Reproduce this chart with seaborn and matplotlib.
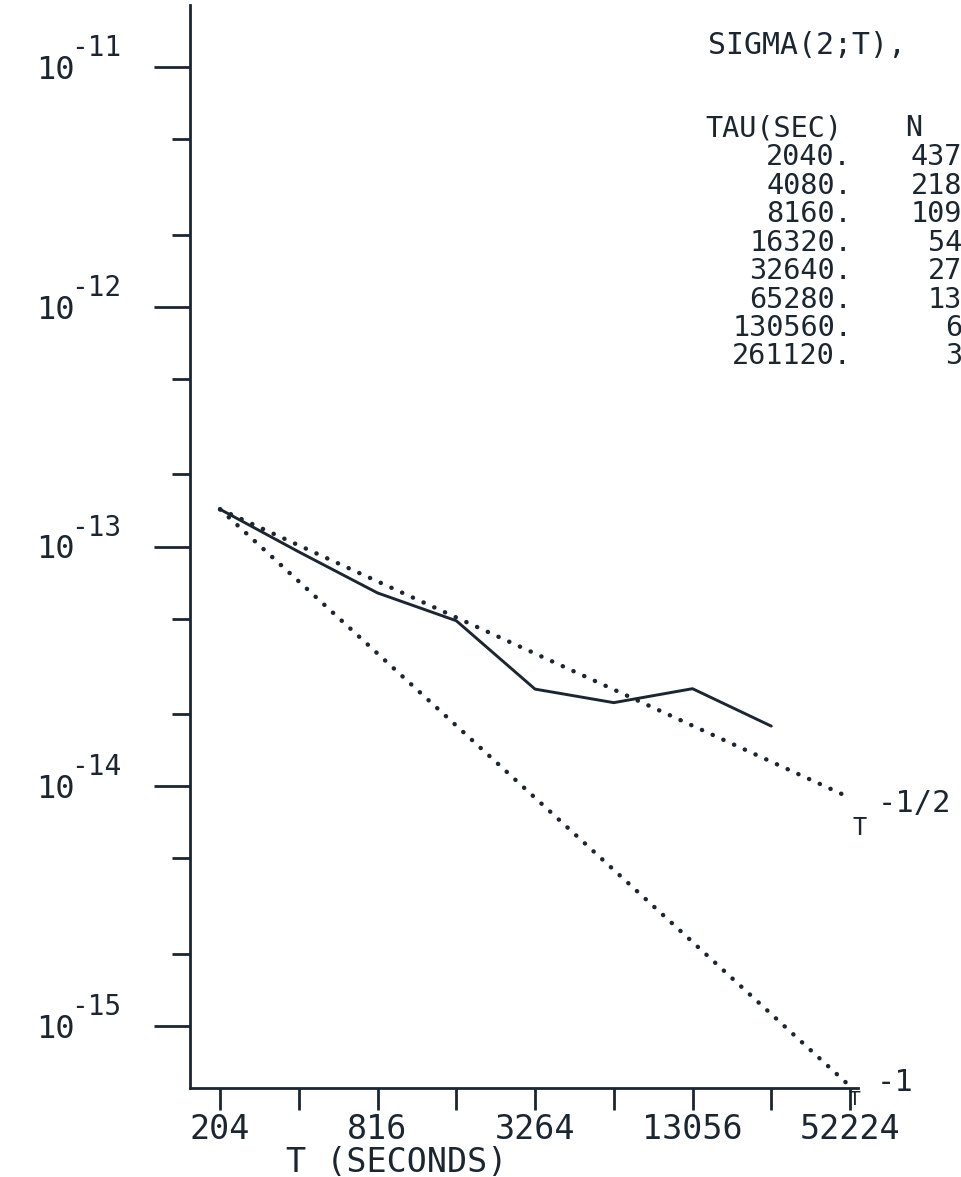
import matplotlib
matplotlib.use("Agg")
import matplotlib.pyplot as plt
import matplotlib.transforms as mtransforms
import seaborn as sns
import pandas as pd
from matplotlib.ticker import FixedLocator, FixedFormatter, NullFormatter

# Measured stability sigma(2;T) against averaging time T
tau = [204, 408, 816, 1632, 3264, 6528, 13056, 26112]
sigma = [1.43e-13, 0.95e-13, 0.64e-13, 0.49e-13, 0.254e-13, 0.223e-13, 0.255e-13, 0.178e-13]

# Guide lines T^-1/2 and T^-1 (end points)
guide_tau = [204, 52224]
guide_half = [1.43e-13, 8.94e-15]
guide_one = [1.43e-13, 5.59e-16]

# Axis ticks
x_major = [204, 816, 3264, 13056, 52224]
x_minor = [408, 1632, 6528, 26112]
y_major = [1e-15, 1e-14, 1e-13, 1e-12, 1e-11]
y_exponents = ["-15", "-14", "-13", "-12", "-11"]
y_minor = [2e-15, 5e-15, 2e-14, 5e-14, 2e-13, 5e-13, 2e-12, 5e-12]

# Side table
table_title = "SIGMA(2;T),"
table_head_tau = "TAU(SEC)"
table_head_n = "N"
table_tau = ["2040.", "4080.", "8160.", "16320.", "32640.", "65280.", "130560.", "261120."]
table_n = ["4370", "2185", "1092", "546", "273", "136", "68", "34"]

INK = "#1b2631"
MONO = "DejaVu Sans Mono"

sns.set_style("ticks")
plt.rcParams["font.family"] = [MONO, "DejaVu Sans"]

W, H = 961, 1177
fig = plt.figure(figsize=(W / 100, H / 100), dpi=100)
fig.patch.set_facecolor("white")

left_px, right_px, bottom_px, top_px = 190, 858, 1088, 5
ax = fig.add_axes([left_px / W, (H - bottom_px) / H,
                   (right_px - left_px) / W, (bottom_px - top_px) / H])
ax.set_facecolor("white")

measured = pd.DataFrame({"tau": tau, "sigma": sigma})
sns.lineplot(data=measured, x="tau", y="sigma", ax=ax, color=INK,
             linewidth=2.1, estimator=None, sort=False)

dot_style = dict(color=INK, linewidth=3.2, linestyle=(0, (0.05, 2.6)),
                 dash_capstyle="round", estimator=None, clip_on=False)
sns.lineplot(x=guide_tau, y=guide_half, ax=ax, **dot_style)
sns.lineplot(x=guide_tau, y=guide_one, ax=ax, **dot_style)

ax.set_xscale("log", base=2)
ax.set_yscale("log")
ax.set_xlim(156.6, 56030)
ax.set_ylim(10 ** -15.26, 10 ** -10.74)

ax.xaxis.set_major_locator(FixedLocator(x_major))
ax.xaxis.set_major_formatter(FixedFormatter([str(v) for v in x_major]))
ax.xaxis.set_minor_locator(FixedLocator(x_minor))
ax.xaxis.set_minor_formatter(NullFormatter())

ax.yaxis.set_major_locator(FixedLocator(y_major))
ax.yaxis.set_major_formatter(FixedFormatter(["10"] * len(y_major)))
ax.yaxis.set_minor_locator(FixedLocator(y_minor))
ax.yaxis.set_minor_formatter(NullFormatter())

for side in ("top", "right"):
    ax.spines[side].set_visible(False)
for side in ("left", "bottom"):
    ax.spines[side].set_color(INK)
    ax.spines[side].set_linewidth(2.0)

ax.tick_params(axis="x", which="both", direction="out", length=16, width=2.0,
               color=INK, labelcolor=INK, labelsize=24, pad=2)
ax.tick_params(axis="y", which="major", direction="out", length=26, width=2.0,
               color=INK, labelcolor=INK, labelsize=23, pad=57)
ax.tick_params(axis="y", which="minor", direction="out", length=13, width=2.0,
               color=INK)

# Decade exponents written as raised text after each "10"
exp_trans = mtransforms.blended_transform_factory(ax.transAxes, ax.transData)
for yv, ex in zip(y_major, y_exponents):
    ax.annotate(ex, xy=(0, yv), xycoords=exp_trans, xytext=(-119, 19),
                textcoords="offset pixels", ha="left", va="center",
                fontsize=20, color=INK, annotation_clip=False)

ax.set_xlabel("T (SECONDS)", fontsize=24, color=INK)
ax.xaxis.set_label_coords((397 - left_px) / (right_px - left_px),
                          -(1146 - bottom_px) / (bottom_px - top_px))
ax.set_ylabel("")

# Slope labels at the ends of the guide lines
ax.annotate("T", xy=(guide_tau[1], guide_half[1]), xytext=(10, -30),
            textcoords="offset pixels", ha="center", va="center",
            fontsize=17, color=INK, annotation_clip=False)
ax.annotate("-1/2", xy=(guide_tau[1], guide_half[1]), xytext=(64, -6),
            textcoords="offset pixels", ha="center", va="center",
            fontsize=22, color=INK, annotation_clip=False)
ax.annotate("T", xy=(guide_tau[1], guide_one[1]), xytext=(4, -13),
            textcoords="offset pixels", ha="center", va="center",
            fontsize=14, color=INK, annotation_clip=False)
ax.annotate("-1", xy=(guide_tau[1], guide_one[1]), xytext=(45, 4),
            textcoords="offset pixels", ha="center", va="center",
            fontsize=22, color=INK, annotation_clip=False)

# Table of averaging times
fig.text(708 / W, 1 - 45 / H, table_title, ha="left", va="center",
         fontsize=21.5, color=INK)
fig.text(705 / W, 1 - 128 / H, table_head_tau, ha="left", va="center",
         fontsize=20.5, color=INK)
fig.text(905 / W, 1 - 128 / H, table_head_n, ha="left", va="center",
         fontsize=20.5, color=INK)
row_y = [157, 186, 214, 243, 271, 300, 328, 356]
for y, t_txt, n_txt in zip(row_y, table_tau, table_n):
    fig.text(852 / W, 1 - y / H, t_txt, ha="right", va="center",
             fontsize=20.5, color=INK)
    fig.text(979 / W, 1 - y / H, n_txt, ha="right", va="center",
             fontsize=20.5, color=INK)

fig.savefig("out.png", dpi=100, facecolor="white")
